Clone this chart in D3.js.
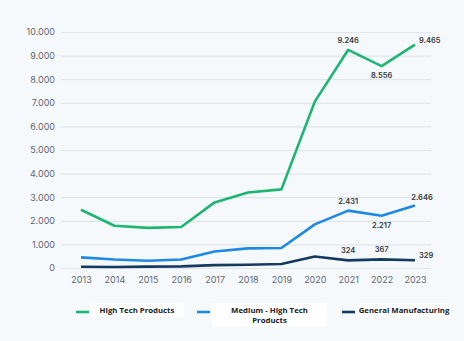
<!DOCTYPE html>
<html>
<head>
<meta charset="utf-8">
<script src="https://cdn.jsdelivr.net/npm/d3@7"></script>
<style>
  html, body { margin: 0; padding: 0; background: #f5f9fb; }
  svg { display: block; }
</style>
</head>
<body>
<svg id="chart" width="464" height="341"></svg>
<script>
// data
var years = [2013, 2014, 2015, 2016, 2017, 2018, 2019, 2020, 2021, 2022, 2023];
var highTech = [2470, 1790, 1700, 1740, 2780, 3200, 3330, 7050, 9246, 8556, 9465];
var mediumHighTech = [450, 360, 310, 360, 700, 830, 850, 1850, 2431, 2217, 2646];
var generalManufacturing = [50, 40, 60, 70, 120, 140, 170, 490, 324, 367, 329];
var yTicks = [0, 1000, 2000, 3000, 4000, 5000, 6000, 7000, 8000, 9000, 10000];
var seriesNames = ["High Tech Products", "Medium - High Tech Products", "General Manufacturing"];

var colors = ["#1db56f", "#1e88e5", "#143a62"];

var locale = d3.formatLocale({ decimal: ",", thousands: ".", grouping: [3], currency: ["", ""] });
var fmt = locale.format(",d");

var svg = d3.select("#chart");

var x = d3.scalePoint().domain(years).range([81, 415]);
var y = d3.scaleLinear().domain([0, 10000]).range([268, 32]);

// grid + y labels
var yAxis = d3.axisLeft(y).tickValues(yTicks).tickSize(-370).tickPadding(6).tickFormat(fmt);
var gy = svg.append("g").attr("transform", "translate(61,0)").call(yAxis);
gy.select(".domain").remove();
gy.selectAll(".tick line").attr("stroke", "#dfe5ea").attr("stroke-width", 1.2);
gy.selectAll(".tick text")
  .attr("fill", "#5f6673")
  .style("font-family", "Inter, 'Noto Sans', sans-serif")
  .style("font-size", "9px");

// x labels
var xAxis = d3.axisBottom(x).tickSize(0).tickPadding(9).tickFormat(d3.format("d"));
var gx = svg.append("g").attr("transform", "translate(0,268)").call(xAxis);
gx.select(".domain").remove();
gx.selectAll(".tick text")
  .attr("fill", "#5f6673")
  .style("font-family", "Inter, 'Noto Sans', sans-serif")
  .style("font-size", "9px");

var allSeries = [highTech, mediumHighTech, generalManufacturing];

var line = d3.line()
  .x(function(d, i) { return x(years[i]); })
  .y(function(d) { return y(d); });

allSeries.forEach(function(vals, s) {
  svg.append("path")
    .attr("d", line(vals))
    .attr("fill", "none")
    .attr("stroke", colors[s])
    .attr("stroke-width", 2.6)
    .attr("stroke-linejoin", "round");
});

// value labels on the last three years
var placement = [
  ["above", "below", "right"],
  ["above", "below", "aboveRight"],
  ["above", "above", "right"]
];

allSeries.forEach(function(vals, s) {
  [8, 9, 10].forEach(function(i, k) {
    var px = x(years[i]), py = y(vals[i]);
    var p = placement[s][k];
    var t = svg.append("text")
      .text(fmt(vals[i]))
      .attr("fill", "#33373d")
      .style("font-family", "Inter, 'Noto Sans', sans-serif")
      .style("font-size", "7.5px")
      .style("font-weight", "600");
    if (p == "above") {
      t.attr("x", px).attr("y", py - 7).attr("text-anchor", "middle");
    } else if (p == "below") {
      t.attr("x", px).attr("y", py + 12).attr("text-anchor", "middle");
    } else if (p == "aboveRight") {
      t.attr("x", px + 7).attr("y", py - 6).attr("text-anchor", "middle");
    } else {
      t.attr("x", px + 4).attr("y", py - 2).attr("text-anchor", "start");
    }
  });
});

// legend
var legend = [
  { sx: 76, bx: 90, bw: 94, bh: 14, lines: ["High Tech Products"] },
  { sx: 197, bx: 212, bw: 115, bh: 24, lines: ["Medium - High Tech", "Products"] },
  { sx: 342, bx: 357, bw: 94, bh: 14, lines: ["General Manufacturing"] }
];

legend.forEach(function(l, s) {
  var g = svg.append("g");
  g.append("line")
    .attr("x1", l.sx).attr("x2", l.sx + 13)
    .attr("y1", 312).attr("y2", 312)
    .attr("stroke", colors[s]).attr("stroke-width", 2.6);
  g.append("rect")
    .attr("x", l.bx).attr("y", 303)
    .attr("width", l.bw).attr("height", l.bh)
    .attr("fill", "#ffffff");
  l.lines.forEach(function(txt, j) {
    g.append("text")
      .text(txt)
      .attr("x", l.bx + l.bw / 2)
      .attr("y", 313 + j * 9.5)
      .attr("text-anchor", "middle")
      .attr("fill", "#1a1a1a")
      .style("font-family", "'Open Sans', sans-serif")
      .style("font-size", "7.8px")
      .style("font-weight", "700");
  });
});
</script>
</body>
</html>
